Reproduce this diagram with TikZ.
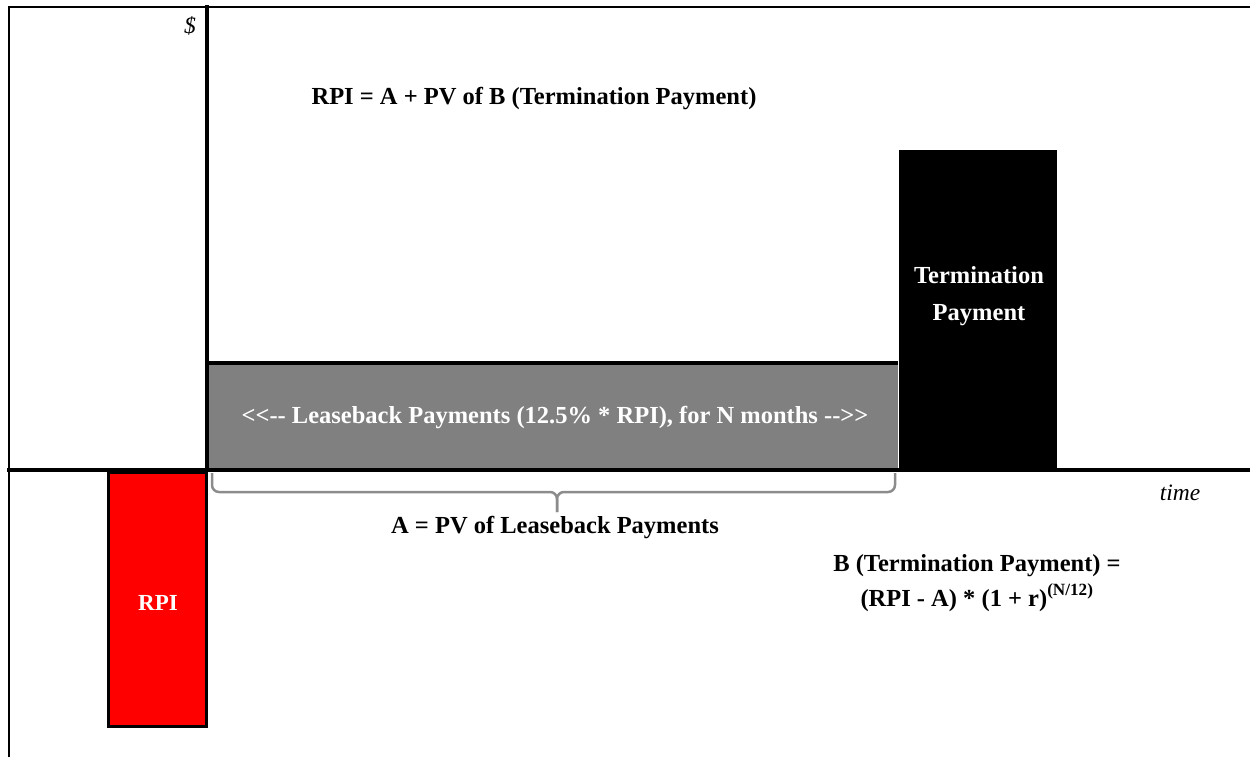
\documentclass[tikz,border=0pt]{standalone}
\usepackage{fontspec}
\setmainfont{Liberation Serif}
\begin{document}
\begin{tikzpicture}[x=1pt,y=-1pt,
  lbl/.style={inner sep=0pt, font=\fontsize{24.5}{29}\selectfont\bfseries},
  wlbl/.style={lbl, text=white},
  ilbl/.style={inner sep=0pt, font=\fontsize{23.5}{28}\selectfont\itshape},
  bracepath/.style={draw=braceGray, line width=2.5pt, rounded corners=7pt},
  axis/.style={line width=4.5pt, line cap=rect},
  frame/.style={line width=2.5pt}]
\definecolor{braceGray}{RGB}{140,140,140}
\definecolor{barGray}{RGB}{128,128,128}
\useasboundingbox (0,0) rectangle (1250,757);
% frame coordinates
\coordinate (ftl) at (9,7);
\coordinate (ftr) at (1250,7);
\coordinate (fbl) at (9,757);
\coordinate (ytop) at (207,7);
\coordinate (yorig) at (207,470);
\coordinate (xl) at (9,470);
\coordinate (xr) at (1250,470);
% boxes
\node[fill=barGray, minimum width=691pt, minimum height=107pt, inner sep=0pt, outer sep=0pt, anchor=north west] (lease) at (207,363) {};
\node[fill=black, minimum width=158pt, minimum height=321pt, inner sep=0pt, outer sep=0pt, anchor=north west] (term) at (899,150) {};
\node[fill=red, draw=black, line width=3pt, minimum width=98pt, minimum height=254pt, inner sep=0pt, outer sep=0pt, anchor=north west] (rpi) at (108.5,472.5) {};
% lines
\draw[frame] (fbl) -- (ftl) -- (ftr);
\draw[line width=3.5pt] (lease.north west) -- (lease.north east);
\draw[axis] (ytop) -- (yorig);
\draw[axis] (xl) -- (xr);
% labels
\node[ilbl] (dollar) at (190,26) {\$};
\node[ilbl] (time) at (1180,493) {time};
\node[lbl] (eq1) at (534,99) {RPI = A + PV of B (Termination Payment)};
\node[wlbl] (leasetxt) at (555,418) {<{}<-{}- Leaseback Payments (12.5\% * RPI), for N months -{}->{}>};
\node[wlbl, align=center, font=\fontsize{24.5}{37}\selectfont\bfseries] (termtxt) at (979,296) {Termination\\Payment};
\node[wlbl, font=\fontsize{23}{27}\selectfont\bfseries] (rpitxt) at (158,603) {RPI};
\node[lbl] (atxt) at (555,528) {A = PV of Leaseback Payments};
\node[lbl, align=center, font=\fontsize{24.5}{35}\selectfont\bfseries] (btxt) at (977,583) {B (Termination Payment) =\\(RPI - A) * (1 + r)\raisebox{2pt}{\textsuperscript{(N/12)}}};
% brace
\coordinate (bl) at (212,473);
\coordinate (br) at (895,473);
\coordinate (bm) at (557,492);
\coordinate (bt) at (557,512);
\draw[bracepath] (bl) -- (bl |- bm) -- (bm) -- (bt);
\draw[bracepath] (br) -- (br |- bm) -- (bm) -- (bt);
\end{tikzpicture}
\end{document}
